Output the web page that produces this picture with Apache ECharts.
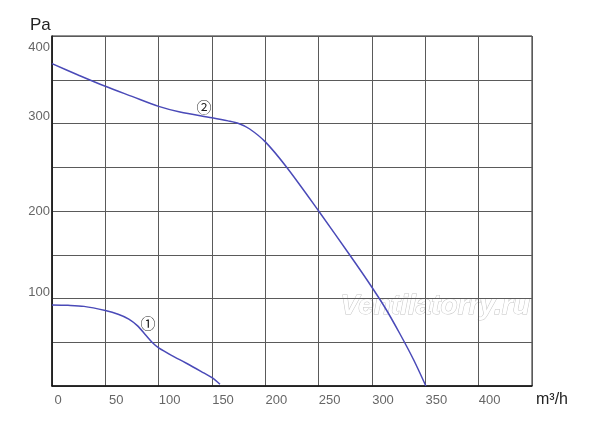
<!DOCTYPE html>
<html><head><meta charset="utf-8">
<script src="https://cdn.jsdelivr.net/npm/echarts@6/dist/echarts.min.js"></script>
<style>html,body{margin:0;padding:0;background:#fff}#c{width:600px;height:423px}</style>
</head><body><div id="c"></div>
<script>
// Flow (m³/h) vs pressure (Pa)
const curve1Flow = [0, 15, 30, 50, 62, 72, 80, 88, 95, 100, 112, 126, 140, 150, 157.5];
const curve1Pa   = [92.6, 92.2, 91, 86.2, 82, 76.5, 69, 58, 48.5, 43.5, 35, 26, 16.5, 9.5, 2];
const curve2Flow = [0, 25, 50, 75, 100, 120, 150, 165, 175, 185, 200, 220, 250, 279, 296, 312, 326, 339, 350.5];
const curve2Pa   = [368.4, 355.2, 342.5, 331, 319.6, 313.2, 306.6, 303, 300, 294, 279, 250, 200, 150, 120, 90, 60, 30, 0];
const xTickLabels = [0, 50, 100, 150, 200, 250, 300, 350, 400];
const yTickLabels = [100, 200, 300, 400];
const curveMarks = [{name: '①', flow: 90, pa: 72}, {name: '②', flow: 142.5, pa: 319}];

const lineColor = '#4a4ab8';
const toPairs = (xs, ys) => xs.map((x, i) => [x, ys[i]]);

const chart = echarts.init(document.getElementById('c'));
chart.setOption({
  animation: false,
  backgroundColor: '#fff',
  grid: {left: 52, right: 68, top: 36, bottom: 37, show: true, borderColor: '#222', borderWidth: 1},
  xAxis: {
    type: 'value', min: 0, max: 450, interval: 50,
    axisLine: {show: true, lineStyle: {color: '#111', width: 1.5}},
    axisTick: {show: false},
    splitLine: {show: true, lineStyle: {color: '#5a5a5a', width: 1}},
    axisLabel: {
      margin: 8, color: '#666', fontSize: 13, fontFamily: 'Liberation Sans',
      formatter: v => xTickLabels.includes(v) ? (v === 0 ? '{z|0}' : '{n|' + v + '}') : '',
      rich: {z: {padding: [0, 0, 0, 12], fontSize: 13, color: '#666'}, n: {padding: [0, 0, 0, 22], fontSize: 13, color: '#666'}}
    }
  },
  yAxis: {
    type: 'value', min: 0, max: 400, interval: 50,
    axisLine: {show: true, lineStyle: {color: '#111', width: 1.5}},
    axisTick: {show: false},
    splitLine: {show: true, lineStyle: {color: '#5a5a5a', width: 1}},
    axisLabel: {
      margin: 2, color: '#666', fontSize: 13, fontFamily: 'Liberation Sans',
      formatter: v => {
        if (!yTickLabels.includes(v)) return '';
        if (v === 400) return '{a|400}';
        if (v === 300) return '{b|300}';
        if (v === 100) return '{c|100}';
        return '{d|' + v + '}';
      },
      rich: {
        a: {padding: [22, 0, 0, 0], fontSize: 13, color: '#666'},
        b: {padding: [0, 0, 14, 0], fontSize: 13, color: '#666'},
        c: {padding: [0, 0, 12, 0], fontSize: 13, color: '#666'},
        d: {fontSize: 13, color: '#666'}
      }
    }
  },
  graphic: [
    {type: 'text', left: 30, top: 17, style: {text: 'Pa', fontSize: 17, fill: '#222', fontFamily: 'Liberation Sans'}},
    {type: 'text', left: 536, top: 392, style: {text: 'm³/h', fontSize: 16, fill: '#222', fontFamily: 'Liberation Sans'}},
    {type: 'text', left: 340, top: 292, style: {text: 'Ventilatorry.ru', fontSize: 28, fontStyle: 'italic', fontWeight: 'bold', fill: '#fff', stroke: '#c4c4c4', lineWidth: 1, fontFamily: 'Liberation Sans'}}
  ],
  series: [
    {type: 'line', data: toPairs(curve1Flow, curve1Pa), smooth: 0.3, showSymbol: false,
     lineStyle: {color: lineColor, width: 1.5},
     markPoint: {symbol: 'circle', symbolSize: 0, label: {show: true, formatter: p => p.name, color: '#222', fontSize: 15, fontFamily: 'Noto Sans CJK SC'},
       data: [{name: curveMarks[0].name, coord: [curveMarks[0].flow, curveMarks[0].pa]}]}},
    {type: 'line', data: toPairs(curve2Flow, curve2Pa), smooth: 0.3, showSymbol: false,
     lineStyle: {color: lineColor, width: 1.5},
     markPoint: {symbol: 'circle', symbolSize: 0, label: {show: true, formatter: p => p.name, color: '#222', fontSize: 15, fontFamily: 'Noto Sans CJK SC'},
       data: [{name: curveMarks[1].name, coord: [curveMarks[1].flow, curveMarks[1].pa]}]}}
  ]
});
</script></body></html>
